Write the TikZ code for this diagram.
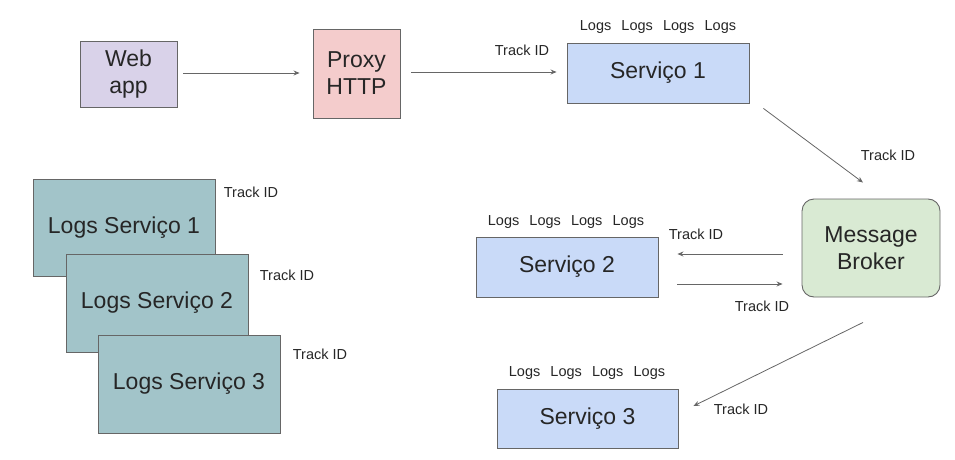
\documentclass[tikz,border=0pt]{standalone}
\usepackage{fontspec}
\setmainfont{Liberation Sans}
\usetikzlibrary{arrows.meta}

\definecolor{webcol}{HTML}{D9D2E9}
\definecolor{proxycol}{HTML}{F4CCCC}
\definecolor{servcol}{HTML}{C9DAF8}
\definecolor{brokercol}{HTML}{D9EAD3}
\definecolor{logcol}{HTML}{A2C4C9}
\definecolor{linecol}{HTML}{666666}
\definecolor{textcol}{HTML}{262626}

\tikzset{
  box/.style={draw=linecol, line width=0.9pt, inner sep=0pt, text=textcol,
    align=center, font=\fontsize{23}{27}\selectfont},
  small/.style={text=textcol, inner sep=0pt, font=\fontsize{14.5}{17}\selectfont},
  link/.style={draw=linecol, line width=0.8pt, -{Stealth[length=6pt,width=5pt]}}
}

\begin{document}
\begin{tikzpicture}[x=1pt,y=-1pt]
\useasboundingbox (0,0) rectangle (955,460);

\node (webapp) [box, fill=webcol, minimum width=97pt, minimum height=66pt] at (128.5,74) {Web\\app};
\node (proxy) [box, fill=proxycol, minimum width=87pt, minimum height=89pt] at (356.5,73.5) {Proxy\\HTTP};
\node (serv1) [box, fill=servcol, minimum width=182pt, minimum height=60pt] at (658,73) {Serviço 1};
\node (broker) [box, fill=brokercol, rounded corners=12pt, minimum width=138pt, minimum height=98pt] at (871,248) {Message\\Broker};
\node (serv2) [box, fill=servcol, minimum width=182pt, minimum height=60pt] at (567,267) {Serviço 2};
\node (serv3) [box, fill=servcol, minimum width=181pt, minimum height=59pt] at (587.5,418.5) {Serviço 3};

\node (logs1) [box, fill=logcol, minimum width=182pt, minimum height=97pt] at (124,227.5) {Logs Serviço 1};
\node (logs2) [box, fill=logcol, minimum width=182pt, minimum height=98pt] at (157,303) {Logs Serviço 2};
\node (logs3) [box, fill=logcol, minimum width=182pt, minimum height=98pt] at (189,384) {Logs Serviço 3};

% logs above the services
\node (serv1logs) [small] at (658,27) {Logs\hspace{0.7em}Logs\hspace{0.7em}Logs\hspace{0.7em}Logs};
\node (serv2logs) [small] at (566,222) {Logs\hspace{0.7em}Logs\hspace{0.7em}Logs\hspace{0.7em}Logs};
\node (serv3logs) [small] at (587,373) {Logs\hspace{0.7em}Logs\hspace{0.7em}Logs\hspace{0.7em}Logs};

% track ids
\node (tid1) [small] at (522,50) {Track ID};
\node (tid2) [small] at (888,155) {Track ID};
\node (tid3) [small] at (696,234) {Track ID};
\node (tid4) [small] at (762,306) {Track ID};
\node (tid5) [small] at (741,409) {Track ID};
\node (tidl1) [small] at (251,192) {Track ID};
\node (tidl2) [small] at (287,275) {Track ID};
\node (tidl3) [small] at (320,354) {Track ID};

\draw [link] ([shift={(6,-1)}]webapp.east) -- ([shift={(-13,-0.5)}]proxy.west);
\draw [link] ([shift={(11,-1.5)}]proxy.east) -- ([shift={(-10,-1)}]serv1.west);
\draw [link] ([shift={(14,5)}]serv1.south east) -- ([shift={(-8,-16)}]broker.north);
\draw [link] ([shift={(-19,6)}]broker.west) -- ([shift={(19,-13)}]serv2.east);
\draw [link] ([shift={(19,17)}]serv2.east) -- ([shift={(-19,36)}]broker.west);
\draw [link] ([shift={(-8,25)}]broker.south) -- ([shift={(15,-12.5)}]serv3.east);
\end{tikzpicture}
\end{document}
